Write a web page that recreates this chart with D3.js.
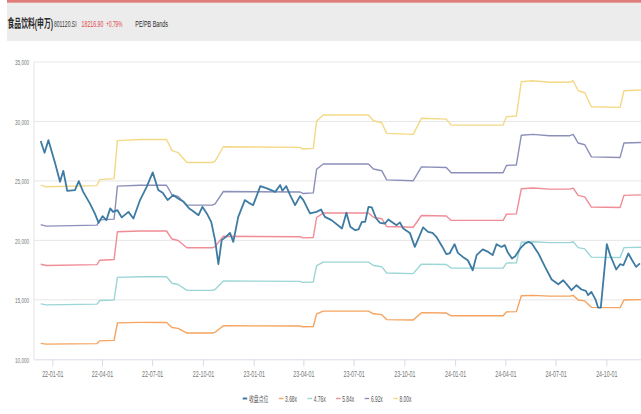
<!DOCTYPE html>
<html><head><meta charset="utf-8">
<script src="https://cdn.jsdelivr.net/npm/d3@7"></script>
<style>body{margin:0;background:#fff;} svg{display:block;}</style>
</head><body><svg id="c" width="641" height="414"></svg>
<script>
// ---------- data ----------
const closeDates = [
"2021-12-11","2021-12-18","2021-12-25","2022-01-06","2022-01-15","2022-01-21","2022-01-28","2022-02-11","2022-02-18","2022-02-26",
"2022-03-10","2022-03-19","2022-03-26","2022-04-02","2022-04-09","2022-04-16","2022-04-21","2022-04-29","2022-05-07","2022-05-19",
"2022-05-28","2022-06-09","2022-06-21","2022-07-02","2022-07-12","2022-07-20","2022-07-29","2022-08-08","2022-08-17","2022-08-27",
"2022-09-06","2022-09-11","2022-09-23","2022-09-30","2022-10-08","2022-10-16","2022-10-23","2022-10-29","2022-11-04","2022-11-13",
"2022-11-19","2022-11-25","2022-12-04","2022-12-16","2022-12-25","2022-12-31","2023-01-13","2023-01-25","2023-02-09","2023-02-18",
"2023-02-22","2023-03-01","2023-03-08","2023-03-17","2023-03-26","2023-04-01","2023-04-13","2023-04-25","2023-05-03","2023-05-10",
"2023-05-22","2023-06-10","2023-06-18","2023-06-25","2023-07-04","2023-07-10","2023-07-16","2023-07-22","2023-07-28","2023-08-03",
"2023-08-11","2023-08-18","2023-08-27","2023-09-02","2023-09-11","2023-09-17","2023-09-23","2023-09-29","2023-10-11","2023-10-20",
"2023-11-04","2023-11-13","2023-11-21","2023-11-28","2023-12-09","2023-12-16","2023-12-22","2023-12-31","2024-01-06","2024-01-15",
"2024-01-24","2024-02-02","2024-02-09","2024-02-20","2024-03-01","2024-03-09","2024-03-16","2024-03-25","2024-03-31","2024-04-05",
"2024-04-13","2024-04-19","2024-04-28","2024-05-07","2024-05-13","2024-05-19","2024-05-31","2024-06-12","2024-06-24","2024-07-06",
"2024-07-15","2024-07-24","2024-07-30","2024-08-08","2024-08-17","2024-08-25","2024-08-29","2024-09-04","2024-09-12","2024-09-16",
"2024-09-21","2024-10-02","2024-10-08","2024-10-19","2024-10-26","2024-11-01","2024-11-10","2024-11-16","2024-11-24","2024-12-01"];
const closeValues = [
28350,27370,28430,26500,24930,25850,24170,24230,24980,24080,
23110,22270,21470,22040,21700,22690,22400,22540,21930,22400,
21840,23390,24500,25720,24230,24000,23390,23810,23530,23240,
22690,22540,22120,22820,22270,21560,20020,18000,20020,20350,
20630,19870,21980,23390,23110,22960,24560,24370,24080,24650,
24170,24560,23810,22960,23720,23390,22270,22400,22600,21980,
21700,21000,22320,21140,20860,20920,21560,21560,22820,22770,
21840,21470,21420,21760,21470,21280,21510,21000,20630,19450,
21090,20720,20630,20300,19450,18840,18900,19680,18950,18610,
18330,17490,18760,19240,19030,18760,19680,19450,19600,19030,
18480,18670,19320,19740,19870,19740,18900,17770,16710,16310,
16650,16150,15810,16230,15870,15750,15390,15670,14970,14350,
14350,19680,18760,17550,18000,17910,18900,18390,17770,18060];

// per-share earnings base used for the PE bands
const epsDates = [
"2021-12-11","2021-12-21","2022-03-23","2022-03-28","2022-04-23","2022-04-29","2022-06-09","2022-07-27","2022-08-06","2022-08-17",
"2022-09-02","2022-10-18","2022-10-23","2022-11-07","2023-03-26","2023-03-31","2023-04-19","2023-04-25","2023-05-07","2023-07-28",
"2023-08-06","2023-08-21","2023-08-30","2023-10-17","2023-11-01","2023-12-16","2023-12-25","2024-03-28","2024-04-03","2024-04-21",
"2024-04-30","2024-05-21","2024-06-20","2024-07-27","2024-08-02","2024-08-11","2024-08-23","2024-09-04","2024-10-26","2024-11-02",
"2024-12-03"];
const epsValues = [
3081,3063,3076,3139,3149,3549,3560,3560,3444,3423,
3318,3318,3334,3484,3478,3460,3467,3754,3818,3818,
3758,3737,3625,3614,3783,3775,3712,3712,3800,3807,
4168,4178,4162,4162,4178,4073,4052,3905,3898,4073,
4080];

const multiples = [3.68, 4.76, 5.84, 6.92, 8.00];
const bandNames = ["3.68x", "4.76x", "5.84x", "6.92x", "8.00x"];
const closeName = "收盘点位";
const yTicks = [10000, 15000, 20000, 25000, 30000, 35000];
const xTicks = ["2022-01-01","2022-04-01","2022-07-01","2022-10-01","2023-01-01","2023-04-01","2023-07-01","2023-10-01",
                "2024-01-01","2024-04-01","2024-07-01","2024-10-01"];
const titleText = "食品饮料(申万)";
const codeText = "801120.SI";
const priceText = "18216.90";
const changeText = "+0.79%";
const subText = "PE/PB Bands";

// ---------- styles ----------
const bandColors = ["#f5a35e", "#9cd5d6", "#f08c96", "#8c8fba", "#f4d985"];
const closeColor = "#3e7ba3";
const FONT = "'Liberation Sans', Arial, 'Noto Sans CJK SC', sans-serif";

const parse = d3.timeParse("%Y-%m-%d");
const svg = d3.select("#c");

function label(g, x, y, s, o) {
  return g.append("text")
    .attr("transform", `translate(${x},${y}) scale(${o.sx || 0.6},1)`)
    .attr("text-anchor", o.anchor || "start")
    .attr("font-size", o.size)
    .attr("font-weight", o.weight || "normal")
    .attr("fill", o.fill)
    .attr("font-family", FONT)
    .text(s);
}

// ---------- header ----------
svg.append("rect").attr("x", 7).attr("y", 2.5).attr("width", 634).attr("height", 38.5).attr("fill", "#ececec");
svg.append("rect").attr("x", 7).attr("y", 0).attr("width", 634).attr("height", 2.7).attr("fill", "#e07b7b");
const hdr = svg.append("g");
let hx = 7.5;
const t1 = label(hdr, hx, 27.5, titleText, {size: 12, weight: "bold", fill: "#2a2a2a", sx: 0.57});
hx += t1.node().getComputedTextLength() * 0.57 + 1;
const t2 = label(hdr, hx, 27, codeText, {size: 9, fill: "#3a3a3a", sx: 0.56});
hx += t2.node().getComputedTextLength() * 0.56 + 5;
const t3 = label(hdr, hx, 27, priceText, {size: 9, fill: "#e0474c", sx: 0.58});
hx += t3.node().getComputedTextLength() * 0.58 + 3;
const t4 = label(hdr, hx, 27, changeText, {size: 9, fill: "#e0474c", sx: 0.52});
hx += t4.node().getComputedTextLength() * 0.52 + 13;
label(hdr, hx, 27, subText, {size: 9, fill: "#2a2a2a", sx: 0.6});

// ---------- scales ----------
const x = d3.scaleTime().domain([parse("2022-01-01"), parse("2024-10-01")]).range([52.3, 606.3]);
const y = d3.scaleLinear().domain([10000, 35000]).range([359.3, 62]);
const plotL = 34, plotR = 641;

// grid
const grid = svg.append("g");
grid.selectAll("line.g").data(yTicks.slice(1)).join("line")
  .attr("x1", plotL).attr("x2", plotR)
  .attr("y1", d => y(d)).attr("y2", d => y(d))
  .attr("stroke", "#e6e6e6").attr("stroke-width", 1);
grid.append("line").attr("x1", plotL).attr("x2", plotL).attr("y1", y(35000)).attr("y2", y(10000))
  .attr("stroke", "#e3e3e3").attr("stroke-width", 1);

// y axis labels
const yAxis = svg.append("g").attr("transform", `translate(${plotL},0)`)
  .call(d3.axisLeft(y).tickValues(yTicks).tickSize(0).tickFormat(d3.format(",")));
yAxis.select(".domain").remove();
yAxis.selectAll("text")
  .attr("x", 0).attr("dy", null)
  .attr("transform", "translate(-4.8,2.8) scale(0.6,1)")
  .attr("font-size", 7.8).attr("font-family", FONT).attr("fill", "#777");

// x axis
const xAxis = svg.append("g").attr("transform", `translate(0,${y(10000)})`)
  .call(d3.axisBottom(x).tickValues(xTicks.map(parse)).tickSize(7).tickFormat(d3.timeFormat("%y-%m-%d")));
xAxis.select(".domain").attr("d", `M${plotL},0.5H${plotR}`).attr("stroke", "#d9dbe6");
xAxis.selectAll(".tick line").attr("stroke", "#d9dbe6");
xAxis.selectAll("text")
  .attr("y", 0).attr("dy", null)
  .attr("transform", "translate(0,17.3) scale(0.62,1)")
  .attr("font-size", 8.6).attr("font-family", FONT).attr("fill", "#777");

// ---------- lines ----------
svg.append("clipPath").attr("id", "clip").append("rect")
  .attr("x", plotL).attr("y", 50).attr("width", plotR - plotL).attr("height", 320);
const plot = svg.append("g").attr("clip-path", "url(#clip)");

const eps = epsDates.map((d, i) => ({date: parse(d), v: epsValues[i]}));
multiples.forEach((m, k) => {
  const line = d3.line().x(d => x(d.date)).y(d => y(d.v * m));
  plot.append("path").datum(eps).attr("d", line)
    .attr("fill", "none").attr("stroke", bandColors[k]).attr("stroke-width", 1.4)
    .attr("stroke-linejoin", "round");
});

const closeData = closeDates.map((d, i) => ({date: parse(d), v: closeValues[i]}));
plot.append("path").datum(closeData)
  .attr("d", d3.line().x(d => x(d.date)).y(d => y(d.v)))
  .attr("fill", "none").attr("stroke", closeColor).attr("stroke-width", 1.8)
  .attr("stroke-linejoin", "round");

// ---------- legend ----------
const legendItems = [{name: closeName, color: closeColor, w: 2}]
  .concat(bandNames.map((n, i) => ({name: n, color: bandColors[i], w: 1.4})));
const lg = svg.append("g");
let lx = 242.7;
legendItems.forEach(it => {
  lg.append("line").attr("x1", lx).attr("x2", lx + 4.5).attr("y1", 398.5).attr("y2", 398.5)
    .attr("stroke", it.color).attr("stroke-width", it.w);
  const t = label(lg, lx + 6.2, 401.6, it.name, {size: 8.4, fill: "#555", sx: 0.58});
  lx += 6.2 + t.node().getComputedTextLength() * 0.58 + 10.5;
});
</script></body></html>
